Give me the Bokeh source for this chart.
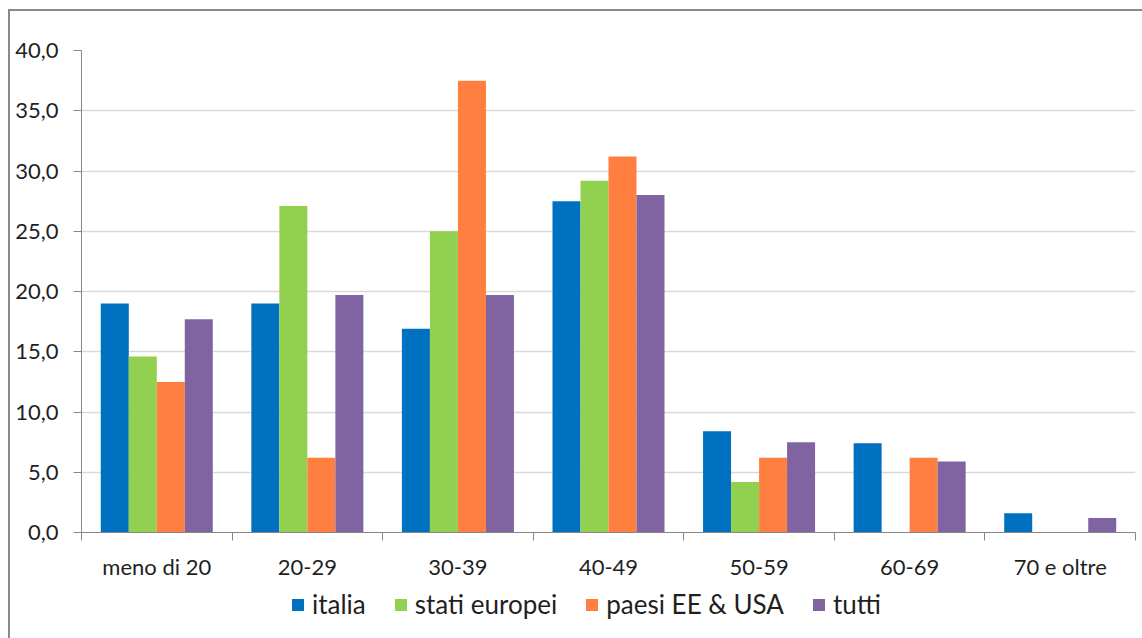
from bokeh.plotting import figure
from bokeh.layouts import column
from bokeh.models import Range1d, FixedTicker, Legend, LegendItem, CustomJSTickFormatter
from bokeh.embed import file_html
from bokeh.resources import INLINE

categories = ["meno di 20", "20-29", "30-39", "40-49", "50-59", "60-69", "70 e oltre"]
series_names = ["italia", "stati europei", "paesi EE & USA", "tutti"]
italia = [19.0, 19.0, 16.9, 27.5, 8.4, 7.4, 1.6]
stati_europei = [14.6, 27.1, 25.0, 29.2, 4.2, 0.0, 0.0]
paesi_ee_usa = [12.5, 6.2, 37.5, 31.2, 6.2, 6.2, 0.0]
tutti = [17.7, 19.7, 19.7, 28.0, 7.5, 5.9, 1.2]
y_ticks = [0, 5, 10, 15, 20, 25, 30, 35, 40]

colors = ["#0070C0", "#92D050", "#FF7F40", "#8064A2"]
FONT = "Lato"
FS = "22px"
LFS = "26px"
TXT = "#1f1f1f"
AX = "#868686"

p = figure(width=1132, height=571, x_range=Range1d(0, len(categories)), y_range=Range1d(0, 40),
           output_backend="svg", toolbar_location=None,
           min_border_left=71, min_border_right=7, min_border_top=39, min_border_bottom=50)
p.outline_line_color = None
p.background_fill_color = "white"
p.border_fill_color = "white"

w = 0.186
series = [italia, stati_europei, paesi_ee_usa, tutti]
for k, (vals, col) in enumerate(zip(series, colors)):
    off = (k - 1.5) * w
    xs = [i + 0.5 + off for i in range(len(categories))]
    p.vbar(x=xs, top=vals, bottom=0, width=w, fill_color=col, line_color=None)

# y axis
p.yaxis.ticker = FixedTicker(ticks=y_ticks)
p.yaxis.formatter = CustomJSTickFormatter(code="return tick.toFixed(1).replace('.', ',');")
p.yaxis.axis_line_color = AX
p.yaxis.major_tick_line_color = AX
p.yaxis.major_tick_out = 8
p.yaxis.major_tick_in = 0
p.yaxis.minor_tick_line_color = None
p.yaxis.major_label_text_font = FONT
p.yaxis.major_label_text_font_size = FS
p.yaxis.major_label_text_color = TXT
p.yaxis.major_label_standoff = 15

# x axis
p.xaxis.ticker = FixedTicker(ticks=[i + 0.5 for i in range(len(categories))],
                             minor_ticks=list(range(len(categories) + 1)))
p.xaxis.formatter = CustomJSTickFormatter(args=dict(labels=categories),
                                          code="return labels[Math.floor(tick)];")
p.xaxis.axis_line_color = AX
p.xaxis.major_tick_line_color = None
p.xaxis.major_tick_out = 0
p.xaxis.major_tick_in = 0
p.xaxis.minor_tick_line_color = AX
p.xaxis.minor_tick_out = 8
p.xaxis.minor_tick_in = 0
p.xaxis.major_label_text_font = FONT
p.xaxis.major_label_text_font_size = FS
p.xaxis.major_label_text_color = TXT
p.xaxis.major_label_standoff = 12

p.xgrid.grid_line_color = None
p.ygrid.grid_line_color = "#D9D9D9"
p.ygrid.grid_line_width = 1.5

# legend strip (a second figure aligned under the chart)
p2 = figure(width=1132, height=56, x_range=Range1d(0, len(categories)), y_range=Range1d(0, 40),
            output_backend="svg", toolbar_location=None,
            x_axis_location=None, y_axis_location=None, min_border=0)
p2.outline_line_color = None
p2.grid.grid_line_color = None
p2.background_fill_color = "white"
p2.border_fill_color = "white"
leg_renderers = []
for k, (vals, col) in enumerate(zip(series, colors)):
    off = (k - 1.5) * w
    xs = [i + 0.5 + off for i in range(len(categories))]
    leg_renderers.append(p2.vbar(x=xs, top=vals, bottom=0, width=w, fill_color=col,
                                 line_color=None, visible=False))
legend = Legend(items=[LegendItem(label=n, renderers=[r]) for n, r in zip(series_names, leg_renderers)],
                orientation="horizontal", location=(209, 18),
                glyph_width=15, glyph_height=15, label_standoff=7, spacing=27,
                border_line_color=None, background_fill_alpha=0, padding=0, margin=0,
                inactive_fill_alpha=0,
                label_text_font=FONT, label_text_font_size=LFS, label_text_color=TXT)
p2.add_layout(legend, "center")

page = column(p, p2, spacing=0,
              styles={"margin-left": "8px", "margin-top": "9px",
                      "border-left": "2px solid #8a8a8a", "border-top": "2px solid #8a8a8a"})

open("out.html", "w").write(file_html(page, INLINE))
